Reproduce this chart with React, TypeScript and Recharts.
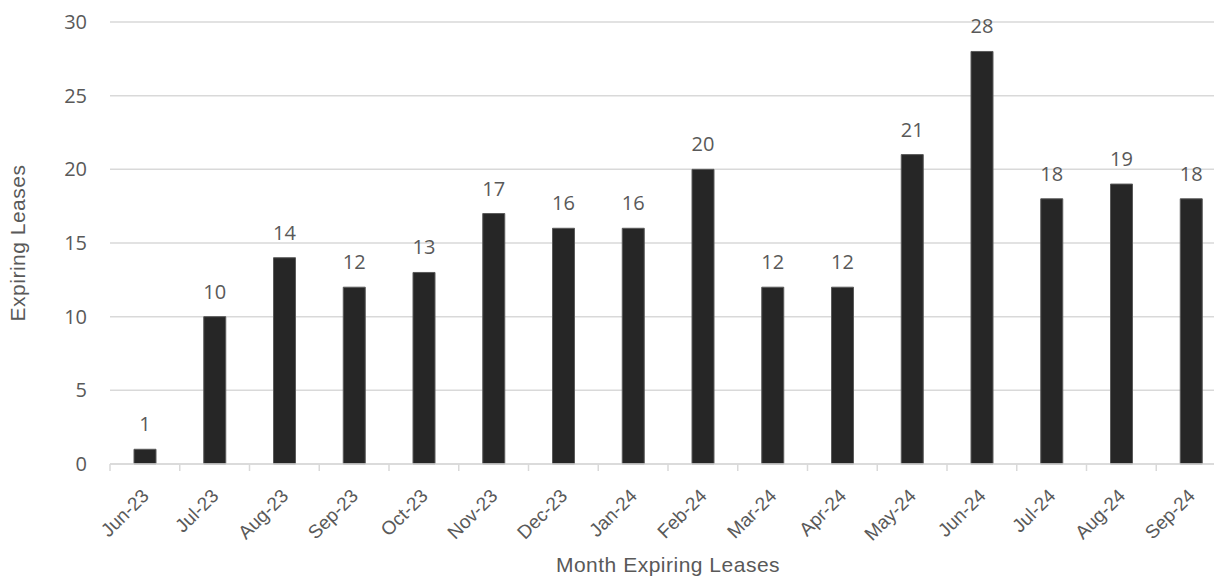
import React from 'react';
import { BarChart, Bar, XAxis, YAxis, CartesianGrid, LabelList, Label } from 'recharts';

const months = [
  'Jun-23', 'Jul-23', 'Aug-23', 'Sep-23', 'Oct-23', 'Nov-23', 'Dec-23', 'Jan-24',
  'Feb-24', 'Mar-24', 'Apr-24', 'May-24', 'Jun-24', 'Jul-24', 'Aug-24', 'Sep-24',
];
const expiring = [1, 10, 14, 12, 13, 17, 16, 16, 20, 12, 12, 21, 28, 18, 19, 18];
const yTicks = [0, 5, 10, 15, 20, 25, 30];

const data = months.map((month, i) => ({ month, leases: expiring[i] }));

const TEXT = '#595959';
const GRID = '#d9d9d9';
const SANS = 'Liberation Sans, Arial, sans-serif';

const MonthTick = (props: any) => {
  const { x, y, payload } = props;
  const half = payload?.offset ?? 34.875;
  const tx = x + 5;
  const ty = y + 33;
  return (
    <g>
      <line x1={x - half} x2={x - half} y1={y} y2={y + 7} stroke={GRID} strokeWidth={1.5} />
      <text
        x={tx}
        y={ty}
        transform={`rotate(-45, ${tx}, ${ty})`}
        textAnchor="end"
        fill={TEXT}
        fontSize={19}
        fontFamily={SANS}
      >
        {payload.value}
      </text>
    </g>
  );
};

const YTitle = (props: any) => {
  const vb = props.viewBox || { x: 0, y: 22, width: 110, height: 442 };
  const cx = 25;
  const cy = vb.y + vb.height / 2;
  return (
    <text
      x={cx}
      y={cy}
      transform={`rotate(-90, ${cx}, ${cy})`}
      textAnchor="middle"
      fill={TEXT}
      fontSize={21}
      letterSpacing={0.5}
      fontFamily={SANS}
    >
      Expiring Leases
    </text>
  );
};

const XTitle = (props: any) => {
  const vb = props.viewBox || { x: 110, y: 464, width: 1116, height: 119 };
  return (
    <text
      x={vb.x + vb.width / 2}
      y={572}
      textAnchor="middle"
      fill={TEXT}
      fontSize={21}
      letterSpacing={0.5}
      fontFamily={SANS}
    >
      Month Expiring Leases
    </text>
  );
};

export default function App() {
  return (
    <div style={{ position: 'absolute', left: 0, top: 0, width: 1214, height: 583, overflow: 'hidden', background: '#fff' }}>
      <BarChart
        width={1240}
        height={583}
        data={data}
        margin={{ top: 22, right: 14, left: 0, bottom: 0 }}
        barCategoryGap={0}
      >
        <CartesianGrid vertical={false} stroke={GRID} strokeWidth={1.5} />
        <XAxis
          dataKey="month"
          height={119}
          interval={0}
          tickLine={false}
          tickSize={0}
          tickMargin={0}
          axisLine={{ stroke: GRID, strokeWidth: 1.5 }}
          tick={<MonthTick />}
        >
          <Label content={<XTitle />} />
        </XAxis>
        <YAxis
          width={110}
          domain={[0, 30]}
          ticks={yTicks}
          interval={0}
          axisLine={false}
          tickLine={false}
          tickSize={0}
          tickMargin={23}
          tick={{ fill: TEXT, fontSize: 20, fontFamily: 'Open Sans, sans-serif' }}
        >
          <Label content={<YTitle />} />
        </YAxis>
        <Bar dataKey="leases" fill="#262626" stroke="#5a5a5a" strokeWidth={1} barSize={22} isAnimationActive={false}>
          <LabelList dataKey="leases" position="top" offset={18} fill={TEXT} fontSize={20} fontFamily="Open Sans, sans-serif" />
        </Bar>
      </BarChart>
    </div>
  );
}
